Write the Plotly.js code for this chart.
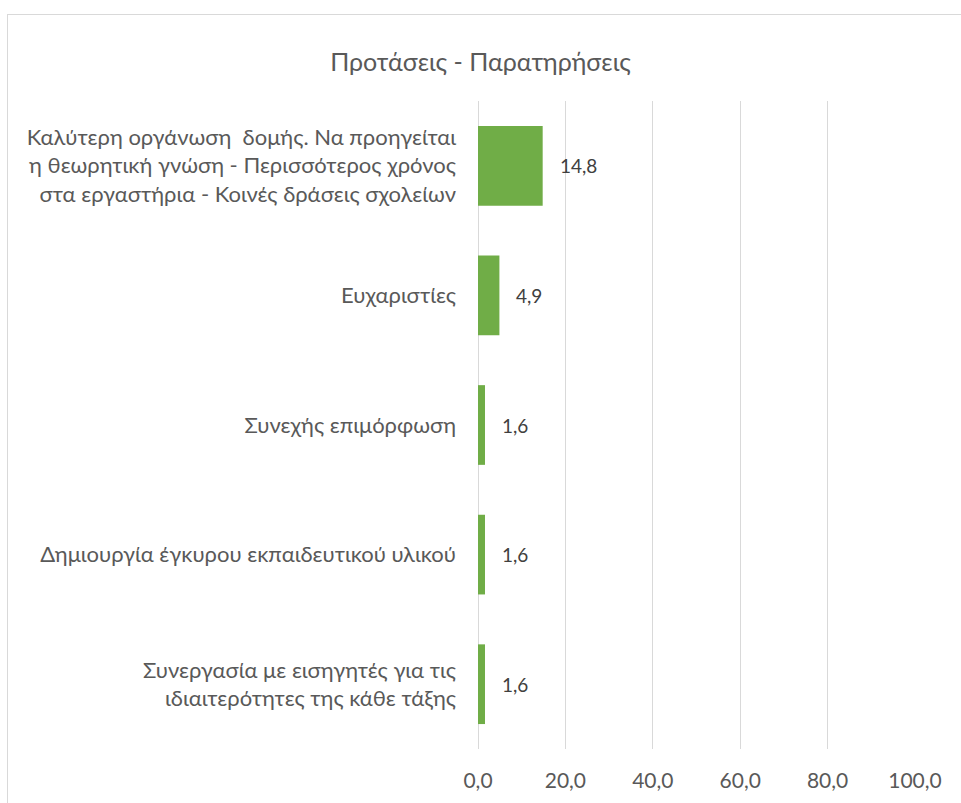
<!DOCTYPE html>
<html>
<head>
<meta charset="utf-8">
<script src="https://cdn.plot.ly/plotly-3.0.1.min.js"></script>
<style>
  body { margin: 0; background: #fff; }
  #chart { width: 961px; height: 803px; }
  #frame { position: absolute; left: 7px; top: 14px; width: 1200px; height: 1200px;
           border-left: 1px solid #d9d9d9; border-top: 1px solid #d9d9d9; pointer-events: none; }
</style>
</head>
<body>
<div id="chart"></div>
<div id="frame"></div>
<script>
const categories = [
  "Καλύτερη οργάνωση  δομής. Να προηγείται<br>η θεωρητική γνώση - Περισσότερος χρόνος<br>στα εργαστήρια - Κοινές δράσεις σχολείων",
  "Ευχαριστίες",
  "Συνεχής επιμόρφωση",
  "Δημιουργία έγκυρου εκπαιδευτικού υλικού",
  "Συνεργασία με εισηγητές για τις<br>ιδιαιτερότητες της κάθε τάξης"
];
const values = [14.8, 4.9, 1.6, 1.6, 1.6];
const xTicks = [0, 20, 40, 60, 80, 100];
const titleText = "Προτάσεις - Παρατηρήσεις";

const fontFam = "Lato, 'Open Sans', sans-serif";

const trace = {
  type: 'bar',
  orientation: 'h',
  x: values,
  y: categories,
  marker: { color: '#70AD47' },
  hoverinfo: 'x+y',
  cliponaxis: false
};

const annotations = values.map((v, i) => ({
  x: v, y: categories[i], xref: 'x', yref: 'y',
  text: v.toFixed(1).replace('.', ','),
  showarrow: false, xanchor: 'left', xshift: 15,
  font: { family: fontFam, size: 19, color: '#404040' }
}));

const layout = {
  width: 961, height: 803,
  margin: { l: 478, r: 46, t: 101, b: 54 },
  paper_bgcolor: '#ffffff',
  plot_bgcolor: '#ffffff',
  separators: ',.',
  showlegend: false,
  bargap: 0.385,
  title: {
    text: titleText,
    x: 0.5, xanchor: 'center', xref: 'container',
    y: 1 - 62 / 803, yanchor: 'middle', yref: 'container',
    font: { family: fontFam, size: 25, color: '#595959' }
  },
  xaxis: {
    range: [0, 100],
    tickvals: xTicks,
    tickformat: '.1f',
    showgrid: true, gridcolor: '#d9d9d9', gridwidth: 1,
    zeroline: true, zerolinecolor: '#d9d9d9', zerolinewidth: 1,
    showline: false, ticks: '',
    ticklabelstandoff: 17,
    tickfont: { family: fontFam, size: 21, color: '#595959' },
    fixedrange: true
  },
  yaxis: {
    type: 'category',
    autorange: 'reversed',
    showgrid: false, zeroline: false, showline: false, ticks: '',
    ticklabelstandoff: 21,
    tickfont: { family: fontFam, size: 22, color: '#595959' },
    fixedrange: true
  },
  annotations: annotations
};

Plotly.newPlot('chart', [trace], layout, { displayModeBar: false, staticPlot: true });
</script>
</body>
</html>
